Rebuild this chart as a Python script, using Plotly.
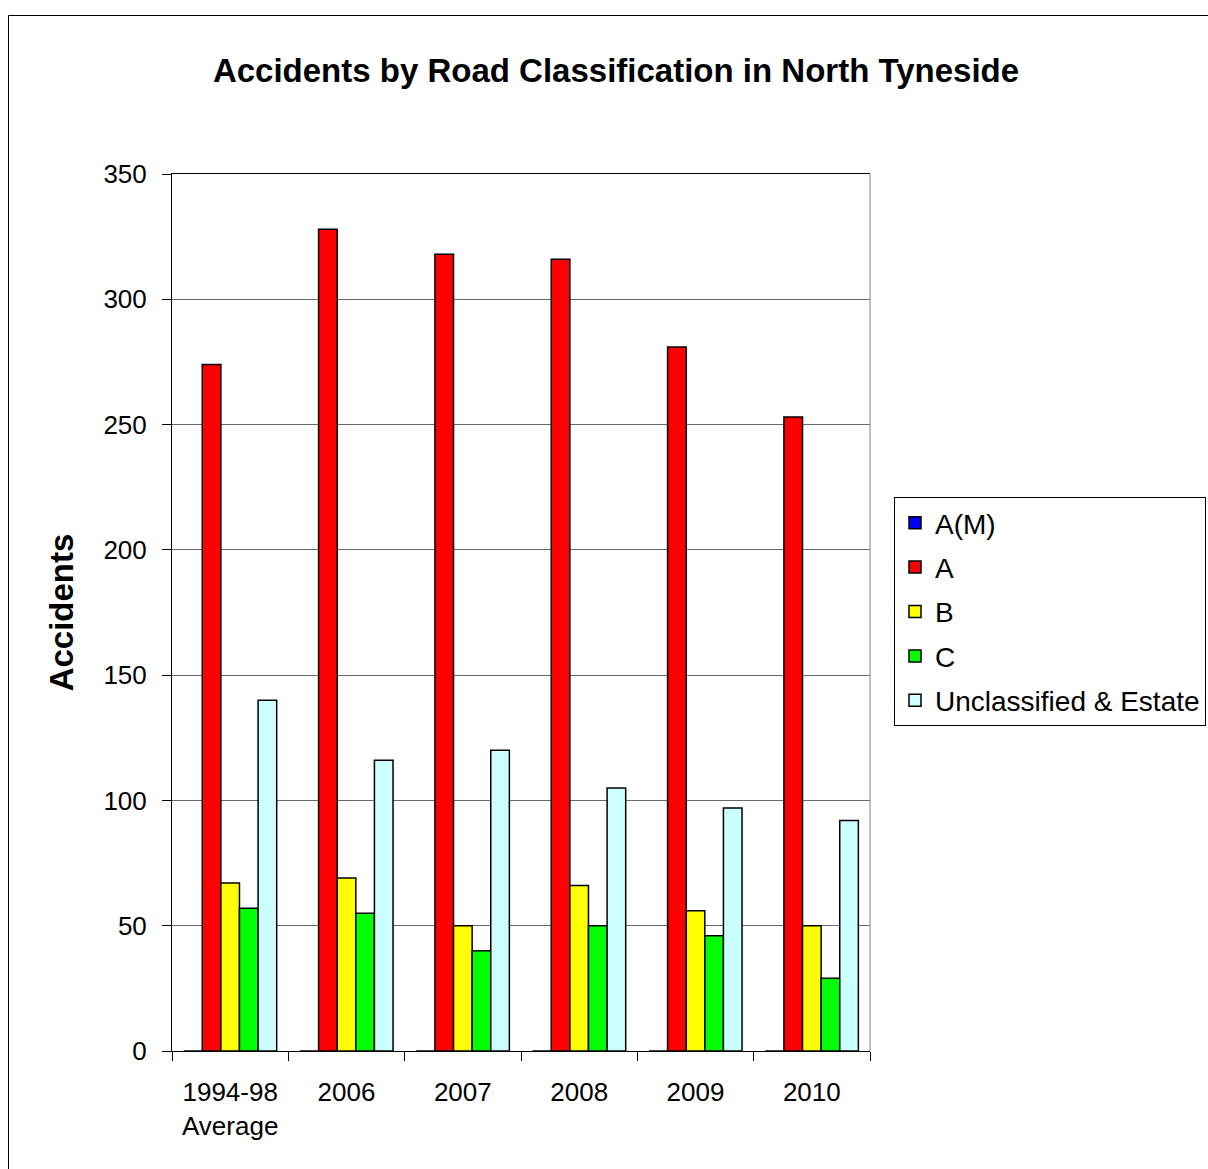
import plotly.graph_objects as go

# Accidents per road class, North Tyneside
periods = ["1994-98<br>Average", "2006", "2007", "2008", "2009", "2010"]
road_am = [0, 0, 0, 0, 0, 0]
road_a = [274, 328, 318, 316, 281, 253]
road_b = [67, 69, 50, 66, 56, 50]
road_c = [57, 55, 40, 50, 46, 29]
road_unclassified = [140, 116, 120, 105, 97, 92]

series = [
    ("A(M)", road_am, "#0000FF"),
    ("A", road_a, "#FF0000"),
    ("B", road_b, "#FFFF00"),
    ("C", road_c, "#00FF00"),
    ("Unclassified & Estate", road_unclassified, "#CCFFFF"),
]

FONT = "Liberation Sans, Arial, sans-serif"

fig = go.Figure()
for name, values, color in series:
    fig.add_trace(go.Bar(
        x=periods, y=values, name=name, legendgroup=name,
        marker=dict(color=color, line=dict(color="black", width=1.5)),
    ))

W, H = 1208, 1169
ml, mr, mt, mb = 172, 338, 174, 118
pw, ph = W - ml - mr, H - mt - mb


def px_x(p):
    return (p - ml) / pw


def px_y(p):
    return (H - mb - p) / ph


fig.update_layout(
    width=W, height=H,
    margin=dict(l=ml, r=mr, t=mt, b=mb, autoexpand=False),
    paper_bgcolor="white", plot_bgcolor="white",
    font=dict(family=FONT, color="black", size=26),
    barmode="group", bargap=0.2, bargroupgap=0,
    title=dict(
        text="<b>Accidents by Road Classification in North Tyneside</b>",
        x=616 / W, xref="container", xanchor="center",
        y=1 - 70 / H, yref="container", yanchor="middle",
        font=dict(family=FONT, size=33, color="black"),
    ),
    legend=dict(
        x=px_x(894), y=px_y(497), xanchor="left", yanchor="top",
        bordercolor="black", borderwidth=1, bgcolor="white",
        font=dict(family=FONT, size=28, color="black"),
        tracegroupgap=5, traceorder="grouped",
    ),
    showlegend=True,
)

fig.update_xaxes(
    showline=True, linecolor="black", linewidth=1, mirror=True,
    ticks="outside", tickson="boundaries", ticklen=9, tickcolor="black",
    tickfont=dict(family=FONT, size=26), ticklabelstandoff=18,
    showgrid=False,
)
fig.update_yaxes(
    range=[0, 350], dtick=50,
    showline=True, linecolor="black", linewidth=1,
    ticks="outside", ticklen=9, tickcolor="black",
    tickfont=dict(family=FONT, size=26), ticklabelstandoff=10,
    showgrid=True, gridcolor="#6a6a6a", gridwidth=1,
    zeroline=False,
    title=dict(text="<b>Accidents</b>", font=dict(family=FONT, size=33), standoff=19),
)

# right edge of the plot area in grey
fig.add_shape(type="line", xref="paper", yref="paper", x0=1, x1=1, y0=0, y1=1,
              line=dict(color="#808080", width=1))
# outer chart frame
fig.add_shape(type="rect", xref="paper", yref="paper",
              x0=px_x(8.5), x1=px_x(1220), y0=px_y(15.5), y1=px_y(1180),
              line=dict(color="black", width=1), layer="below")

fig.write_html("out.html")
